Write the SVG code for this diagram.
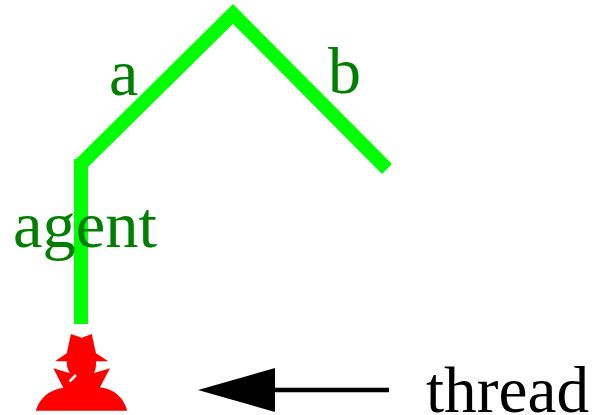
<svg xmlns="http://www.w3.org/2000/svg" width="594" height="415" viewBox="0 0 594 415">
<style>
.t{font-family:"Liberation Serif","Times New Roman",serif;font-size:66px}
.g{fill:#008000}
.e{fill:none;stroke:#00ff00;stroke-width:14}
</style>
<rect width="594" height="415" fill="#fff"/>
<g id="connectors">
<path class="e" d="M81 324V159"/>
<path class="e" d="M78 167L233 14L387 169"/>
<path d="M275 390H389" stroke="#000" stroke-width="4.500" fill="none"/>
<path d="M198 390L275 368V412Z" fill="#000"/>
</g>
<g id="agent">
<path fill="#f00" d="M71 334L81.700 337.700L91.700 334L96 353.300L108.300 361.300H96Q96.500 368 94 373L110 368.300L100 387.300Q121 390 127.300 410.700H35.700Q42 391 63.300 387.700L53.300 368.300L70 373.300Q66.500 368 66.700 361.300H55L66.700 353.300Z"/>
<path d="M69.500 381.500L76 375" stroke="#fff" stroke-width="2.500" fill="none"/>
<text class="t g" x="13" y="247" textLength="144" lengthAdjust="spacingAndGlyphs">agent</text>
</g>
<g id="a"><text class="t g" x="109" y="95">a</text></g>
<g id="b"><text class="t g" x="328" y="93">b</text></g>
<g id="thread"><text class="t" x="426" y="412" textLength="163" lengthAdjust="spacingAndGlyphs">thread</text></g>
</svg>
